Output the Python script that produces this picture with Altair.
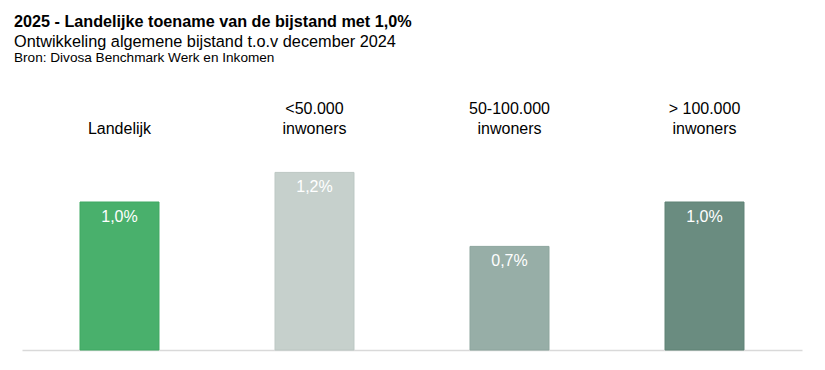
import altair as alt
import pandas as pd

categories = ["Landelijk", "<50.000\ninwoners", "50-100.000\ninwoners", "> 100.000\ninwoners"]
values = [1.0, 1.2, 0.7, 1.0]
value_labels = ["1,0%", "1,2%", "0,7%", "1,0%"]
colors = ["#49b06c", "#c6d0cc", "#97aea7", "#6a8c80"]
stroke_colors = ["#3fa862", "#bcc7c3", "#8ca59d", "#5f8275"]

title_lines = [
    "2025 - Landelijke toename van de bijstand met 1,0%",
    "Ontwikkeling algemene bijstand t.o.v december 2024",
    "Bron: Divosa Benchmark Werk en Inkomen",
]

# single-line category names get an empty first line so every label ends on the same line
cat_labels = [c if "\n" in c else "\n" + c for c in categories]

df = pd.DataFrame({
    "cat": categories,
    "catlab": cat_labels,
    "val": values,
    "lab": value_labels,
    "color": colors,
    "stroke": stroke_colors,
})

FONT = "Liberation Sans"

x = alt.X("cat:N", sort=categories,
          scale=alt.Scale(paddingInner=0.595, paddingOuter=0.2975),
          axis=alt.Axis(title=None, labels=False, ticks=False, domain=True,
                        domainColor="#d9d9d9", domainWidth=1.5, grid=False))
y = alt.Y("val:Q", scale=alt.Scale(domain=[0, 1.892], nice=False, zero=True),
          axis=None)

base = alt.Chart(df)

bars = base.mark_bar(strokeWidth=1).encode(
    x=x, y=y,
    color=alt.Color("color:N", scale=None),
    stroke=alt.Stroke("stroke:N", scale=None),
)

vals = base.mark_text(font=FONT, fontSize=16, color="white", baseline="middle", dy=15).encode(
    x=x, y=y, text="lab:N"
)

cats = base.mark_text(font=FONT, fontSize=16, color="#000000", baseline="bottom",
                      lineBreak="\n", lineHeight=19.5).encode(
    x=x, y=alt.value(47), text="catlab:N"
)

tdf = pd.DataFrame({"t": title_lines, "i": [0, 1, 2]})
t1 = alt.Chart(tdf.iloc[[0]]).mark_text(font=FONT, fontSize=16.2, fontWeight="bold", align="left",
                                         baseline="middle", color="#000").encode(
    x=alt.value(-8), y=alt.value(-48), text="t:N")
t2 = alt.Chart(tdf.iloc[[1]]).mark_text(font=FONT, fontSize=16.3, align="left",
                                         baseline="middle", color="#000").encode(
    x=alt.value(-8), y=alt.value(-28), text="t:N")
t3 = alt.Chart(tdf.iloc[[2]]).mark_text(font=FONT, fontSize=13.6, align="left",
                                         baseline="middle", color="#000").encode(
    x=alt.value(-8), y=alt.value(-12), text="t:N")

chart = alt.layer(bars, vals, cats, t1, t2, t3).properties(
    width=780, height=280,
    autosize=alt.AutoSizeParams(type="none"),
    padding={"left": 14, "top": 62, "right": 15, "bottom": 12},
).configure_view(stroke=None)

chart.save("out.html", embed_options={"renderer": "svg", "actions": False})
